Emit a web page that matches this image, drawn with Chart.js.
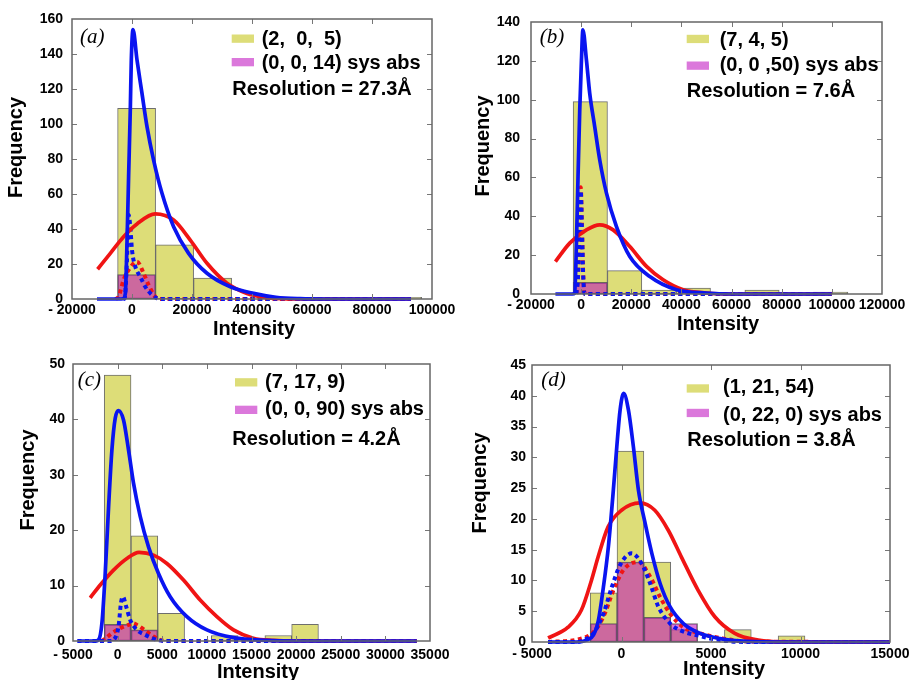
<!DOCTYPE html>
<html><head><meta charset="utf-8">
<script src="https://cdn.jsdelivr.net/npm/chart.js@4.4.1/dist/chart.umd.min.js"></script>
<style>
body{margin:0;background:#fff;width:918px;height:680px;position:relative;overflow:hidden}
canvas{position:absolute}
</style></head><body>
<canvas id="ca" width="459" height="340" style="left:0;top:0;width:459px;height:340px"></canvas>
<canvas id="cb" width="459" height="340" style="left:459px;top:0;width:459px;height:340px"></canvas>
<canvas id="cc" width="459" height="340" style="left:0;top:340px;width:459px;height:340px"></canvas>
<canvas id="cd" width="459" height="340" style="left:459px;top:340px;width:459px;height:340px"></canvas>
<script>
// ---------------- shared text ----------------
const X_TITLE = 'Intensity';
const Y_TITLE = 'Frequency';

// ---------------- panel (a) ----------------
const A_LABEL = '(a)';
const A_LEGEND = ['(2,  0,  5)', '(0, 0, 14) sys abs'];
const A_RESOLUTION = 'Resolution = 27.3Å';
const A_BIN_CENTERS = [1535, 14205, 26875, 39545, 52215, 64885, 77555, 90225];
const A_COUNTS = [109, 31, 12, 0, 0, 0, 0, 1];
const A_SYSABS = [14, 0, 0, 0, 0, 0, 0, 0];
const A_BLUE_FIT = [[-11670,0],[-4000,0],[-2900,0.2],[-2230,3],[-1670,31.8],[-1130,70],[-570,108],[-230,136.6],[330,154],[1670,136.6],[3330,117.5],[5000,98.5],[7200,79.4],[10000,60.4],[13870,41.3],[18870,26.1],[25000,14.7],[32770,7],[40530,3.2],[48000,1],[56000,0.2],[65000,0],[93000,0]];
const A_RED_FIT = [[-11470,17],[-7230,26.1],[-2800,35.6],[1670,42.9],[7770,48.6],[13870,45.1],[19430,33.7],[25000,20.4],[31670,9],[38330,3.2],[45000,0.8],[52000,0.1],[60000,0],[93000,0]];
const A_BLUE_SYS = [[-2800,0],[-2450,0.4],[-1670,22.3],[-1130,48],[-570,41.3],[0,28],[1100,18.5],[2770,12.7],[4430,7],[6670,2.3],[8330,0.4],[10000,0],[93000,0]];
const A_RED_SYS = [[-5500,0],[-4470,1.3],[-2800,10.9],[-1130,16.6],[1670,21.3],[3870,14.7],[5530,8],[7770,1.3],[9000,0],[93000,0]];
const A_X_TICKS = [-20000, 0, 20000, 40000, 60000, 80000, 100000];
const A_Y_TICKS = [0, 20, 40, 60, 80, 100, 120, 140, 160];

// ---------------- panel (b) ----------------
const B_LABEL = '(b)';
const B_LEGEND = ['(7, 4, 5)', '(0, 0 ,50) sys abs'];
const B_RESOLUTION = 'Resolution = 7.6Å';
const B_BIN_CENTERS = [3650, 17350, 31050, 44750, 58450, 72150, 85850, 99550];
const B_COUNTS = [99, 12, 2, 3, 0, 2, 0, 1];
const B_SYSABS = [6, 0, 0, 0, 0, 0, 0, 0];
const B_BLUE_FIT = [[-10260,0],[-3500,0],[-2550,0.5],[-1880,26.2],[-1240,60.4],[-560,94.7],[120,120.3],[700,136],[2120,120.3],[3430,103.2],[5430,86],[7420,69],[10100,51.9],[14090,34.7],[19400,19.3],[27390,9],[38040,2.2],[50020,0.5],[60000,0],[99900,0]];
const B_RED_FIT = [[-10260,16.7],[-4550,26.2],[2120,33],[7420,35.6],[12740,33],[19400,24.4],[26070,14.2],[32700,7.3],[40680,2.2],[50020,0.5],[60000,0],[99900,0]];
const B_BLUE_SYS = [[-1900,0],[-1200,10],[-700,34],[-160,53],[300,34],[800,10],[1400,0],[99900,0]];
const B_RED_SYS = [[-1900,0],[-1200,11],[-700,36],[-160,55],[300,36],[800,11],[1400,0],[99900,0]];
const B_X_TICKS = [-20000, 0, 20000, 40000, 60000, 80000, 100000, 120000];
const B_Y_TICKS = [0, 20, 40, 60, 80, 100, 120, 140];

// ---------------- panel (c) ----------------
const C_LABEL = '(c)';
const C_LEGEND = ['(7, 17, 9)', '(0, 0, 90) sys abs'];
const C_RESOLUTION = 'Resolution = 4.2Å';
const C_BIN_CENTERS = [0, 3000, 6000, 9000, 12000, 15000, 18000, 21000];
const C_COUNTS = [48, 19, 5, 0, 1, 0, 1, 3];
const C_SYSABS = [3, 2, 0, 0, 0, 0, 0, 0];
const C_BLUE_FIT = [[-4500,0],[-2500,0],[-2140,0.2],[-1760,3.2],[-1390,12.2],[-1010,24.3],[-640,34.5],[-270,40.2],[100,41.6],[660,39.9],[1220,34.5],[1780,28.5],[2530,22.5],[3460,17],[4580,12.2],[5890,8],[7760,4.4],[10000,2],[12980,0.6],[16700,0.1],[20000,0],[33500,0]];
const C_RED_FIT = [[-3070,7.8],[-1950,10.1],[-460,12.8],[1040,14.9],[2400,16],[4020,15.5],[5520,14],[7380,11],[9250,7.4],[11120,4.4],[12980,2],[15200,0.5],[17460,0.1],[20000,0],[33500,0]];
const C_BLUE_SYS = [[-4500,0],[-800,0],[-460,0.2],[100,2.6],[370,6.8],[590,8],[960,6.2],[1410,3.8],[2160,2],[3090,1.1],[4400,0.2],[5500,0],[33500,0]];
const C_RED_SYS = [[-1800,0],[-1580,0.2],[-640,1.4],[290,2.3],[1220,2.9],[1700,3.2],[2160,2.9],[3090,1.9],[4020,0.8],[4770,0.2],[5500,0],[33500,0]];
const C_X_TICKS = [-5000, 0, 5000, 10000, 15000, 20000, 25000, 30000, 35000];
const C_Y_TICKS = [0, 10, 20, 30, 40, 50];

// ---------------- panel (d) ----------------
const D_LABEL = '(d)';
const D_LEGEND = ['(1, 21, 54)', '(0, 22, 0) sys abs'];
const D_RESOLUTION = 'Resolution = 3.8Å';
const D_BIN_CENTERS = [-1000, 500, 2000, 3500, 5000, 6500, 8000, 9500];
const D_COUNTS = [8, 31, 13, 2, 0, 2, 0, 1];
const D_SYSABS = [3, 13, 4, 3, 0, 0, 0, 0];
const D_BLUE_FIT = [[-4100,0],[-2500,0],[-1940,0.3],[-1570,1.1],[-1291,3.5],[-1012,8.9],[-732,15.5],[-486,23.6],[-263,31.7],[-78,37.7],[120,40.4],[386,37.7],[665,31.7],[945,24.7],[1319,19.3],[1694,14.4],[2158,9.5],[2717,5.7],[3460,3],[4394,1.4],[5512,0.55],[7000,0.1],[9000,0],[15000,0]];
const D_RED_FIT = [[-4100,0.65],[-2985,2.4],[-2240,5.2],[-1680,10],[-1308,13.8],[-749,18.7],[0,21.4],[1023,22.6],[1861,21.4],[2605,18.2],[3348,13.8],[4282,8.4],[5214,4.1],[6331,1.4],[7636,0.3],[9000,0],[15000,0]];
const D_BLUE_SYS = [[-4100,0],[-2500,0],[-2130,0.3],[-1570,1.4],[-1012,4.6],[-544,8.9],[-78,12.5],[575,14.4],[1135,12.7],[1600,9.5],[2065,5.7],[2717,3],[3276,1.9],[4208,1.1],[5512,0.3],[7000,0],[15000,0]];
const D_RED_SYS = [[-4100,0],[-2314,0.5],[-1570,1.6],[-1012,4.1],[-451,8.4],[106,11.7],[945,13],[1600,10.6],[2158,7.3],[2717,4.6],[3460,2.4],[4394,1.4],[5700,0.55],[7000,0.1],[15000,0]];
const D_X_TICKS = [-5000, 0, 5000, 10000, 15000];
const D_Y_TICKS = [0, 5, 10, 15, 20, 25, 30, 35, 40, 45];

// ---------------- styles ----------------
const YELLOW = 'rgb(221,221,120)';
const PINK = 'rgba(190,10,190,0.55)';
const BAR_EDGE = 'rgba(85,85,85,0.85)';
const BLUE = '#0a14f0';
const RED = '#f01414';
const FONT = 'Liberation Sans, Arial, sans-serif';

const LAYOUTS = {
  a: {left:72, right:432, top:19, bottom:299, xPad:3, yPad:9,
      yTitle:[16,147.5], xTitle:[254,329], label:[80,37.7],
      sw:231.7, tx:261.7, rows:[[38.5,39],[62,63]], res:[232.3,89.3]},
  b: {left:72, right:423, top:22, bottom:294, xPad:3, yPad:11,
      yTitle:[24,146], xTitle:[259,324], label:[80.7,37.3],
      sw:227.7, tx:260.7, rows:[[38.8,40],[65.5,65.7]], res:[227.7,91.7]},
  c: {left:73, right:430, top:24, bottom:301, xPad:6, yPad:8,
      yTitle:[28,140], xTitle:[258,332], label:[77.7,40],
      sw:235, tx:265, rows:[[42.2,42.7],[69.7,69]], res:[232.3,99]},
  d: {left:73, right:431, top:25, bottom:302, xPad:4, yPad:6,
      yTitle:[21,143], xTitle:[265,329], label:[82.3,40.7],
      sw:227.7, tx:264, rows:[[48.3,47.3],[72.8,75]], res:[228.3,100]}
};

const decor = {
  id: 'decor',
  afterDraw(chart, args, o) {
    const ctx = chart.ctx, a = chart.chartArea, xs = chart.scales.x, ys = chart.scales.y;
    const L = o.layout;
    ctx.save();
    ctx.strokeStyle = '#777'; ctx.lineWidth = 1;
    const seg = (x1,y1,x2,y2) => { ctx.beginPath(); ctx.moveTo(x1,y1); ctx.lineTo(x2,y2); ctx.stroke(); };
    xs.ticks.forEach(t => {
      const p = Math.round(xs.getPixelForValue(t.value)) + 0.5;
      if (p <= a.left + 2 || p >= a.right - 2) return;
      seg(p, a.bottom, p, a.bottom - 5); seg(p, a.top, p, a.top + 5);
    });
    ys.ticks.forEach(t => {
      const p = Math.round(ys.getPixelForValue(t.value)) + 0.5;
      if (p <= a.top + 2 || p >= a.bottom - 2) return;
      seg(a.left, p, a.left + 5, p); seg(a.right, p, a.right - 5, p);
    });
    ctx.lineWidth = 1.5; ctx.strokeStyle = '#666';
    ctx.strokeRect(a.left, a.top, a.right - a.left, a.bottom - a.top);

    ctx.fillStyle = '#000';
    ctx.textBaseline = 'middle';
    // panel label
    ctx.font = 'italic 21px "Liberation Serif", "Times New Roman", serif';
    ctx.textAlign = 'left';
    ctx.fillText(o.label, L.label[0], L.label[1]);
    // legend
    ctx.font = 'bold 20px ' + FONT;
    const sws = [YELLOW, PINK];
    o.legend.forEach((txt, i) => {
      ctx.fillStyle = '#fff'; ctx.fillRect(L.sw, L.rows[i][0] - 4, 22.3, 8.3);
      ctx.fillStyle = sws[i]; ctx.fillRect(L.sw, L.rows[i][0] - 4, 22.3, 8.3);
      ctx.fillStyle = '#000';
      ctx.fillText(txt, L.tx, L.rows[i][1]);
    });
    ctx.fillText(o.resolution, L.res[0], L.res[1]);
    // axis titles
    ctx.textAlign = 'center';
    ctx.fillText(X_TITLE, L.xTitle[0], L.xTitle[1]);
    ctx.translate(L.yTitle[0], L.yTitle[1]);
    ctx.rotate(-Math.PI / 2);
    ctx.fillText(Y_TITLE, 0, 0);
    ctx.restore();
  }
};

const pts = arr => arr.map(p => ({x: p[0], y: p[1]}));
const bars = (c, v) => c.map((x, i) => ({x: x, y: v[i]}));
const fmt = v => v < 0 ? '- ' + Math.abs(v) : String(v);
const TICK_FONT = {family: FONT, weight: 'bold', size: 14};

function makeChart(id, d, L) {
  const line = (data, color, dotted, order) => ({
    type: 'line', data: pts(data), borderColor: color, backgroundColor: color,
    borderWidth: dotted ? 4 : 3.7, borderDash: dotted ? [4, 3.5] : [],
    pointRadius: 0, fill: false, cubicInterpolationMode: 'monotone', clip: false, order: order
  });
  new Chart(document.getElementById(id), {
    type: 'bar',
    data: {
      datasets: [
        line(d.blueFit, BLUE, false, 1),
        line(d.redFit, RED, false, 2),
        line(d.blueSys, BLUE, true, 3),
        line(d.redSys, RED, true, 4),
        {type: 'bar', label: d.legend[1], data: bars(d.centers, d.sysabs), backgroundColor: PINK,
         borderColor: BAR_EDGE, borderWidth: 1, borderSkipped: false, grouped: false,
         barPercentage: 1, categoryPercentage: 1, order: 5},
        {type: 'bar', label: d.legend[0], data: bars(d.centers, d.counts), backgroundColor: YELLOW,
         borderColor: BAR_EDGE, borderWidth: 1, borderSkipped: false, grouped: false,
         barPercentage: 1, categoryPercentage: 1, order: 6}
      ]
    },
    options: {
      responsive: false, animation: false, devicePixelRatio: 1,
      layout: {padding: {left: 0, top: L.top, right: 459 - L.right, bottom: 0}},
      plugins: {legend: {display: false}, tooltip: {enabled: false},
        decor: {layout: L, label: d.label, legend: d.legend, resolution: d.resolution}},
      scales: {
        x: {type: 'linear', min: d.xTicks[0], max: d.xTicks[d.xTicks.length - 1], offset: false,
            grid: {display: false, drawTicks: false}, border: {display: false},
            afterBuildTicks: s => { s.ticks = d.xTicks.map(v => ({value: v})); },
            afterFit: s => { s.height = 340 - L.bottom; },
            ticks: {autoSkip: false, maxRotation: 0, minRotation: 0, padding: L.xPad,
                    font: TICK_FONT, color: '#000', callback: fmt}},
        y: {type: 'linear', min: d.yTicks[0], max: d.yTicks[d.yTicks.length - 1],
            grid: {display: false, drawTicks: false}, border: {display: false},
            afterBuildTicks: s => { s.ticks = d.yTicks.map(v => ({value: v})); },
            afterFit: s => { s.width = L.left; },
            ticks: {autoSkip: false, padding: L.yPad, font: TICK_FONT, color: '#000', callback: fmt}}
      }
    },
    plugins: [decor]
  });
}

makeChart('ca', {label: A_LABEL, legend: A_LEGEND, resolution: A_RESOLUTION, centers: A_BIN_CENTERS,
  counts: A_COUNTS, sysabs: A_SYSABS, blueFit: A_BLUE_FIT, redFit: A_RED_FIT, blueSys: A_BLUE_SYS,
  redSys: A_RED_SYS, xTicks: A_X_TICKS, yTicks: A_Y_TICKS}, LAYOUTS.a);
makeChart('cb', {label: B_LABEL, legend: B_LEGEND, resolution: B_RESOLUTION, centers: B_BIN_CENTERS,
  counts: B_COUNTS, sysabs: B_SYSABS, blueFit: B_BLUE_FIT, redFit: B_RED_FIT, blueSys: B_BLUE_SYS,
  redSys: B_RED_SYS, xTicks: B_X_TICKS, yTicks: B_Y_TICKS}, LAYOUTS.b);
makeChart('cc', {label: C_LABEL, legend: C_LEGEND, resolution: C_RESOLUTION, centers: C_BIN_CENTERS,
  counts: C_COUNTS, sysabs: C_SYSABS, blueFit: C_BLUE_FIT, redFit: C_RED_FIT, blueSys: C_BLUE_SYS,
  redSys: C_RED_SYS, xTicks: C_X_TICKS, yTicks: C_Y_TICKS}, LAYOUTS.c);
makeChart('cd', {label: D_LABEL, legend: D_LEGEND, resolution: D_RESOLUTION, centers: D_BIN_CENTERS,
  counts: D_COUNTS, sysabs: D_SYSABS, blueFit: D_BLUE_FIT, redFit: D_RED_FIT, blueSys: D_BLUE_SYS,
  redSys: D_RED_SYS, xTicks: D_X_TICKS, yTicks: D_Y_TICKS}, LAYOUTS.d);
</script>
</body></html>
